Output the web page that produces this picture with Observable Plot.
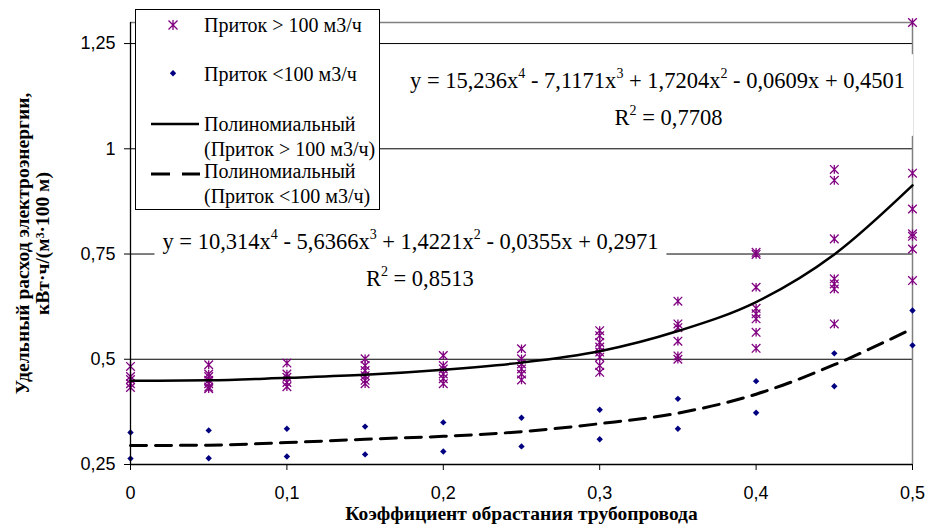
<!DOCTYPE html>
<html><head><meta charset="utf-8">
<script src="https://cdn.jsdelivr.net/npm/d3@7"></script>
<script src="https://cdn.jsdelivr.net/npm/@observablehq/plot@0.6"></script>
<style>
body{margin:0;background:#fff;}
#wrap{position:relative;width:928px;height:530px;overflow:hidden;}
#legend{position:absolute;left:135px;top:9px;width:245px;height:201px;border:1px solid #000;background:#fff;box-sizing:border-box;}
#legend text{font-family:"Liberation Serif","Times New Roman",serif;font-size:20px;fill:#000;}
</style></head><body><div id="wrap"></div>
<script>
// ---- data ----
const coef = [0, 0.05, 0.1, 0.15, 0.2, 0.25, 0.3, 0.35, 0.4, 0.45, 0.5];
const highInflow = [
  [0.483, 0.459, 0.452, 0.442, 0.433],
  [0.487, 0.465, 0.459, 0.45, 0.442, 0.434, 0.43],
  [0.491, 0.465, 0.457, 0.445, 0.435],
  [0.501, 0.485, 0.473, 0.461, 0.45, 0.442],
  [0.509, 0.485, 0.477, 0.465, 0.454, 0.442],
  [0.525, 0.501, 0.489, 0.477, 0.465, 0.451],
  [0.568, 0.556, 0.54, 0.529, 0.517, 0.505, 0.485, 0.469],
  [0.638, 0.584, 0.575, 0.543, 0.508, 0.5],
  [0.754, 0.749, 0.671, 0.621, 0.608, 0.596, 0.564, 0.526],
  [0.951, 0.925, 0.786, 0.691, 0.679, 0.667, 0.584],
  [1.3, 0.942, 0.857, 0.798, 0.792, 0.762, 0.687]
];
const lowInflow = [
  [0.326, 0.264], [0.331, 0.265], [0.335, 0.269], [0.34, 0.274], [0.35, 0.281],
  [0.361, 0.293], [0.38, 0.31], [0.406, 0.335], [0.448, 0.373], [0.514, 0.436], [0.616, 0.533]
];
const highTrend = [0.449, 0.450, 0.456, 0.463, 0.475, 0.492, 0.519, 0.567, 0.636, 0.749, 0.913];
const lowTrend  = [0.295, 0.296, 0.302, 0.310, 0.317, 0.328, 0.347, 0.372, 0.417, 0.487, 0.573];
const xTicks = [0, 0.1, 0.2, 0.3, 0.4, 0.5];
const yTicks = [0.25, 0.5, 0.75, 1, 1.25];
const gridY = [0.5, 0.75, 1, 1.25];
const seriesNames = ["Приток > 100 м3/ч", "Приток <100 м3/ч"];
const trendNames = [["Полиномиальный", "(Приток > 100 м3/ч)"], ["Полиномиальный", "(Приток <100 м3/ч)"]];
const eqTexts = [
  "y = 15,236x⁴ - 7,1171x³ + 1,7204x² - 0,0609x + 0,4501",
  "R² = 0,7708",
  "y = 10,314x⁴ - 5,6366x³ + 1,4221x² - 0,0355x + 0,2971",
  "R² = 0,8513"
];
const eqX = [0.337, 0.344, 0.179, 0.185];
const eqY = [1.161, 1.074, 0.780, 0.692];
const eqGroup = [0, 0, 1, 1];
const xTitle = "Коэффициент обрастания трубопровода";
const yTitle = "Удельный расход электроэнергии,\nкВт·ч/(м³·100 м)";

// ---- tables ----
const highRows = coef.flatMap((c, i) => highInflow[i].map(v => ({coef: c, value: v})));
const lowRows = coef.flatMap((c, i) => lowInflow[i].map(v => ({coef: c, value: v})));
const highTrendRows = coef.map((c, i) => ({coef: c, value: highTrend[i]}));
const lowTrendRows = coef.map((c, i) => ({coef: c, value: lowTrend[i]}));
const eqRows = eqTexts.map((t, i) => ({text: t, x: eqX[i], y: eqY[i], g: eqGroup[i]}));

const fmt = d => String(d).replace(".", ",");
const serif = '"Liberation Serif","Times New Roman",serif';

const starSymbol = {draw(ctx, size) {
  const r = Math.sqrt(size / Math.PI);
  ctx.moveTo(-r, -r); ctx.lineTo(r, r);
  ctx.moveTo(-r, r); ctx.lineTo(r, -r);
  ctx.moveTo(0, -r); ctx.lineTo(0, r);
}};
const diamondSymbol = {draw(ctx, size) {
  const r = Math.sqrt(size / Math.PI);
  ctx.moveTo(0, -r); ctx.lineTo(r, 0); ctx.lineTo(0, r); ctx.lineTo(-r, 0); ctx.closePath();
}};

const chart = Plot.plot({
  width: 928, height: 530,
  marginLeft: 130, marginRight: 16, marginTop: 22, marginBottom: 66,
  x: {domain: [0, 0.5]},
  y: {domain: [0.25, 1.3]},
  style: {fontFamily: '"Liberation Sans", Arial, sans-serif', fontSize: "18px", background: "white", color: "black", overflow: "visible"},
  marks: [
    Plot.ruleY(gridY, {stroke: "#000", strokeWidth: 1}),
    Plot.ruleY([1.3], {stroke: "#808080", strokeWidth: 1.5}),
    Plot.ruleX([0.5], {stroke: "#808080", strokeWidth: 1.5}),
    Plot.dot(highRows, {x: "coef", y: "value", symbol: starSymbol, r: 4.3, stroke: "#800080", strokeWidth: 1.3, fill: "none"}),
    Plot.dot(lowRows, {x: "coef", y: "value", symbol: diamondSymbol, r: 3.2, fill: "#000080", stroke: "none"}),
    Plot.line(highTrendRows, {x: "coef", y: "value", curve: "monotone-x", stroke: "#000", strokeWidth: 2.5}),
    Plot.line(lowTrendRows, {x: "coef", y: "value", curve: "monotone-x", stroke: "#000", strokeWidth: 3, strokeDasharray: "16,9"}),
    Plot.axisX({ticks: xTicks, tickSize: 6, tickPadding: 16, tickFormat: fmt, label: null, stroke: "#000"}),
    Plot.axisY({ticks: yTicks, tickSize: 6, tickPadding: 9, tickFormat: fmt, label: null, stroke: "#000"}),
    Plot.ruleY([0.25], {stroke: "#000", strokeWidth: 1.3}),
    Plot.ruleX([0], {stroke: "#000", strokeWidth: 1.3}),
    Plot.text(eqRows, {x: "x", y: "y", text: "text", fontFamily: serif, fontSize: 22.5, fill: "#000"}),
    Plot.text([xTitle], {text: d => d, frameAnchor: "bottom", dy: 55, fontFamily: serif, fontWeight: "bold", fontSize: 19.5, fill: "#000"}),
    Plot.text([yTitle], {text: d => d, frameAnchor: "left", textAnchor: "middle", dx: -98, rotate: -90, lineHeight: 1.05, fontFamily: serif, fontWeight: "bold", fontSize: 19.5, fill: "#000"})
  ]
});

const wrap = document.getElementById("wrap");
wrap.appendChild(chart);

// superscripts + white label boxes for the trendline equations
const NS = "http://www.w3.org/2000/svg";
const supMap = {"⁰":"0","¹":"1","²":"2","³":"3","⁴":"4","⁵":"5","⁶":"6","⁷":"7","⁸":"8","⁹":"9"};
const eqEls = Array.from(chart.querySelectorAll("text")).filter(t => eqTexts.includes(t.textContent));
const eqOf = new Map();
eqEls.forEach(t => {
  eqOf.set(t, eqRows.find(r => r.text === t.textContent));
  const parts = t.textContent.split(/([⁰¹²³⁴⁵⁶⁷⁸⁹]+)/);
  t.textContent = "";
  for (const p of parts) {
    if (!p) continue;
    const ts = document.createElementNS(NS, "tspan");
    if (/[⁰¹²³⁴⁵⁶⁷⁸⁹]/.test(p)) {
      ts.textContent = p.replace(/./g, c => supMap[c] || c);
      ts.setAttribute("font-size", "14");
      ts.setAttribute("baseline-shift", "10");
    } else ts.textContent = p;
    t.appendChild(ts);
  }
});
const svgBox = chart.getBoundingClientRect();
const groups = {};
eqEls.forEach(t => {
  const b = t.getBoundingClientRect();
  const row = eqOf.get(t);
  const g = row ? row.g : 0;
  const o = groups[g] || (groups[g] = {x0: Infinity, y0: Infinity, x1: -Infinity, y1: -Infinity, parent: t.parentNode});
  o.x0 = Math.min(o.x0, b.left - svgBox.left); o.x1 = Math.max(o.x1, b.right - svgBox.left);
  o.y0 = Math.min(o.y0, b.top - svgBox.top); o.y1 = Math.max(o.y1, b.bottom - svgBox.top);
});
Object.values(groups).forEach(o => {
  const r = document.createElementNS(NS, "rect");
  r.setAttribute("x", o.x0 - 8); r.setAttribute("y", o.y0 - 12);
  r.setAttribute("width", o.x1 - o.x0 + 16); r.setAttribute("height", o.y1 - o.y0 + 18);
  r.setAttribute("fill", "white");
  let g = o.parent; while (g.parentNode !== chart) g = g.parentNode;
  chart.insertBefore(r, g);
});

// legend (inside the plot area, like the reference)
const lg = document.createElement("div");
lg.id = "legend";
lg.innerHTML = `<svg width="243" height="199" xmlns="${NS}">
  <path d="M32.5,10.5L41.5,19.5M32.5,19.5L41.5,10.5M37,10V20" stroke="#800080" stroke-width="1.3" fill="none"/>
  <text x="68" y="22"></text>
  <path d="M37,60L40.2,63.2L37,66.4L33.8,63.2Z" fill="#000080"/>
  <text x="68" y="71"></text>
  <line x1="15" x2="63" y1="114" y2="114" stroke="#000" stroke-width="2.5"/>
  <text x="68" y="121"></text>
  <text x="68" y="146"></text>
  <line x1="15" x2="64" y1="164" y2="164" stroke="#000" stroke-width="3" stroke-dasharray="19,12"/>
  <text x="68" y="168"></text>
  <text x="68" y="193"></text>
</svg>`;
const lt = lg.querySelectorAll("text");
[seriesNames[0], seriesNames[1], trendNames[0][0], trendNames[0][1], trendNames[1][0], trendNames[1][1]]
  .forEach((s, i) => lt[i].textContent = s);
wrap.appendChild(lg);
</script>
</body></html>
